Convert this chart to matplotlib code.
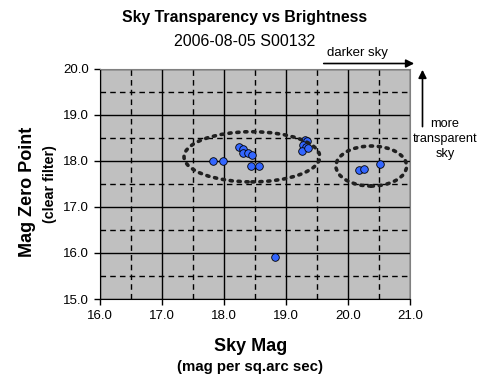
import matplotlib.pyplot as plt
from matplotlib.patches import Ellipse
from matplotlib.ticker import MultipleLocator

plt.rcParams['font.family'] = ['Liberation Sans', 'DejaVu Sans']

# sky brightness (mag / sq arcsec) vs zero point
sky_mag = [17.83, 17.98, 18.24, 18.31, 18.30, 18.38, 18.45, 18.43, 18.57,
           19.31, 19.34, 19.28, 19.33, 19.25, 19.36,
           20.17, 20.25, 20.51, 18.83]
zero_pt = [18.00, 17.99, 18.30, 18.25, 18.18, 18.17, 18.12, 17.88, 17.88,
           18.46, 18.44, 18.35, 18.31, 18.22, 18.28,
           17.80, 17.82, 17.93, 15.92]

# grouping ellipses: (centre x, centre y, width, height)
groups = [(18.45, 18.09, 2.19, 1.09),
          (20.375, 17.89, 1.14, 0.87)]

fig = plt.figure(figsize=(4.89, 3.92), dpi=100)
ax = fig.add_axes([0.2045, 0.2372, 0.634, 0.587])
ax.set_facecolor('#c0c0c0')

ax.set_xlim(16, 21)
ax.set_ylim(15, 20)
ax.xaxis.set_major_locator(MultipleLocator(1))
ax.yaxis.set_major_locator(MultipleLocator(1))
ax.xaxis.set_minor_locator(MultipleLocator(0.5))
ax.yaxis.set_minor_locator(MultipleLocator(0.5))
ax.grid(which='major', color='black', lw=1, ls='-')
ax.grid(which='minor', color='black', lw=1, ls=(0, (4, 3)))
ax.set_axisbelow(True)
ax.xaxis.set_major_formatter('{x:.1f}')
ax.yaxis.set_major_formatter('{x:.1f}')
ax.tick_params(which='major', direction='out', length=4, width=1, labelsize=9.5, pad=4)
ax.tick_params(which='minor', length=0)

for s in ['top', 'right']:
    ax.spines[s].set_color('#808080')
for s in ['left', 'bottom']:
    ax.spines[s].set_color('black')

ax.scatter(sky_mag, zero_pt, s=30, c='#3366ff', edgecolors='black', linewidths=0.6, zorder=3)

for cx, cy, w, h in groups:
    ax.add_patch(Ellipse((cx, cy), w, h, fill=False, ec='#202020', lw=2.6,
                         ls=(0, (0.6, 1.6)), capstyle='round', zorder=4))

fig.text(0.5, 0.955, 'Sky Transparency vs Brightness', ha='center', va='center',
         fontsize=11.4, fontweight='bold')
fig.text(0.5, 0.893, '2006-08-05 S00132', ha='center', va='center', fontsize=11.5)

fig.text(0.512, 0.115, 'Sky Mag', ha='center', va='center', fontsize=13, fontweight='bold')
fig.text(0.512, 0.063, '(mag per sq.arc sec)', ha='center', va='center', fontsize=10.8, fontweight='bold')
fig.text(0.057, 0.51, 'Mag Zero Point', ha='center', va='center', rotation=90,
         fontsize=13, fontweight='bold')
fig.text(0.103, 0.531, '(clear filter)', ha='center', va='center', rotation=90,
         fontsize=10.3, fontweight='bold')

# direction hints
fig.text(0.73, 0.865, 'darker sky', ha='center', va='center', fontsize=9.5)
fig.add_artist(plt.Annotation('', xy=(0.847, 0.838), xytext=(0.662, 0.838),
                              xycoords='figure fraction',
                              arrowprops=dict(arrowstyle='-|>', color='black', lw=1.2,
                                              mutation_scale=12, shrinkA=0, shrinkB=0)))
fig.add_artist(plt.Annotation('', xy=(0.864, 0.822), xytext=(0.864, 0.677),
                              xycoords='figure fraction',
                              arrowprops=dict(arrowstyle='-|>', color='black', lw=1.2,
                                              mutation_scale=12, shrinkA=0, shrinkB=0)))
fig.text(0.91, 0.645, 'more\ntransparent\nsky', ha='center', va='center', fontsize=9.2,
         linespacing=1.3)

fig.savefig('out.png', dpi=100)
